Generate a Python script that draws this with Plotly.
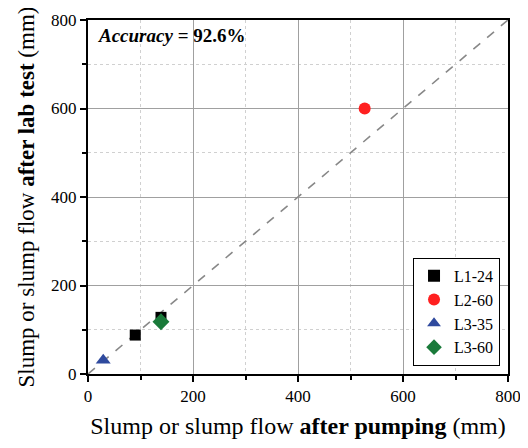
import plotly.graph_objects as go

# series: slump after pumping (x) vs after lab test (y), mm
names = ["L1-24", "L2-60", "L3-35", "L3-60"]
x_vals = [[90, 139], [527], [29], [139]]
y_vals = [[88, 128], [600], [31], [118]]
colors = ["#000000", "#ff2020", "#2f4a9e", "#1a7a3a"]
symbols = ["square", "circle", "triangle-up", "diamond"]
sizes = [11, 12, 13, 13]

line_x = [0, 800]
line_y = [0, 800]

FONT = "Liberation Serif"

fig = go.Figure()
fig.add_scatter(x=line_x, y=line_y, mode="lines", showlegend=False,
                line=dict(color="#888888", width=1.6, dash="dash"), hoverinfo="skip")
for n, xs, ys, c, s, sz in zip(names, x_vals, y_vals, colors, symbols, sizes):
    fig.add_scatter(x=xs, y=ys, mode="markers", name=n,
                    marker=dict(color=c, symbol=s, size=sz, line=dict(width=0)))

axis = dict(range=[0, 800], dtick=200, showline=True, linecolor="black", linewidth=2,
            mirror=True, ticks="outside", ticklen=6, tickwidth=1.5, tickcolor="black",
            gridcolor="#a0a0a0", gridwidth=1, zeroline=False, automargin=False,
            tickfont=dict(family=FONT, size=17, color="black"),
            minor=dict(dtick=100, ticks="outside", ticklen=4, tickcolor="black",
                       showgrid=True, gridcolor="#d0d0d0", griddash="dot"))

fig.update_xaxes(**axis, title=dict(text="Slump or slump flow <b>after pumping</b> (mm)",
                                    font=dict(family=FONT, size=24, color="black"), standoff=12))
fig.update_yaxes(**axis, title=dict(text="Slump or slump flow <b>after lab test</b> (mm)",
                                    font=dict(family=FONT, size=23, color="black"), standoff=10))

fig.add_annotation(x=0.02, y=0.955, xref="paper", yref="paper", xanchor="left", yanchor="middle",
                   text="<b><i>Accuracy</i></b> <b>= 92.6%</b>", showarrow=False,
                   font=dict(family=FONT, size=19, color="black"))

# page body adds 8px, so the figure is a bit smaller than the window
fig.update_layout(
    width=520, height=440, plot_bgcolor="white", paper_bgcolor="white",
    margin=dict(l=80, r=20, t=12, b=74),
    font=dict(family=FONT, color="black"),
    legend=dict(x=0.981, y=0.023, xanchor="right", yanchor="bottom",
                bordercolor="black", borderwidth=1, bgcolor="white",
                font=dict(family=FONT, size=16, color="black"),
                itemsizing="constant", tracegroupgap=0),
)

fig.write_html("out.html")
